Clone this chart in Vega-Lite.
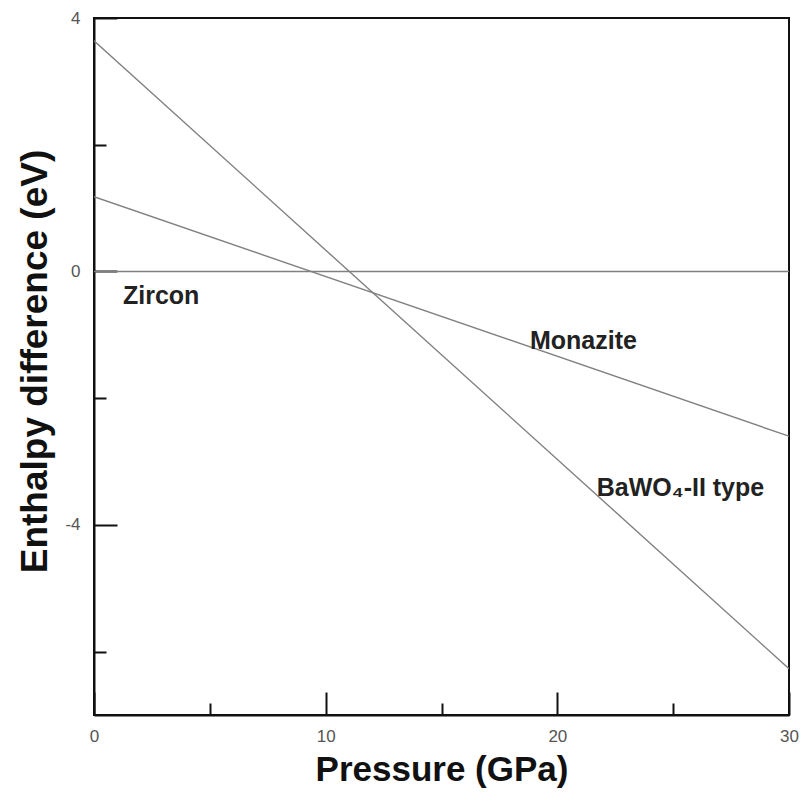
{
  "$schema": "https://vega.github.io/schema/vega-lite/v6.json",
  "autosize": "none",
  "width": 695,
  "height": 697,
  "padding": {"left": 94, "top": 18, "right": 15, "bottom": 86},
  "background": "white",
  "config": {
    "view": {"stroke": "#111", "strokeWidth": 2},
    "font": "Liberation Sans"
  },
  "datasets": {
    "lines": [
      {"series": "Zircon", "p": 0, "h": 0},
      {"series": "Zircon", "p": 30, "h": 0},
      {"series": "Monazite", "p": 0, "h": 1.18},
      {"series": "Monazite", "p": 30, "h": -2.6},
      {"series": "BaWO4-II", "p": 0, "h": 3.64},
      {"series": "BaWO4-II", "p": 30, "h": -6.27}
    ],
    "labels": [
      {"text": "Zircon", "p": 1.25, "h": -0.38},
      {"text": "Monazite", "p": 18.82, "h": -1.09},
      {"text": "BaWO₄-II type", "p": 21.7, "h": -3.42}
    ]
  },
  "layer": [
    {
      "data": {"name": "lines"},
      "mark": {"type": "line", "color": "#808080", "strokeWidth": 1.4, "clip": true},
      "encoding": {
        "x": {
          "field": "p", "type": "quantitative",
          "scale": {"domain": [0, 30], "nice": false},
          "axis": {
            "title": "Pressure (GPa)",
            "titleFontSize": 35, "titleFontWeight": "bold", "titleColor": "#111", "titlePadding": 8,
            "values": [0, 5, 10, 15, 20, 25, 30],
            "labelExpr": "datum.value % 10 === 0 ? '' + datum.value : ''",
            "labelFontSize": 17, "labelColor": "#555", "labelPadding": 36,
            "tickSize": {"condition": {"test": "datum.value % 10 === 0", "value": -23}, "value": -12},
            "tickColor": "#111", "tickWidth": 2,
            "domainColor": "#111", "domainWidth": 2,
            "grid": false, "labelFlush": false
          }
        },
        "y": {
          "field": "h", "type": "quantitative",
          "scale": {"domain": [-7, 4], "nice": false},
          "axis": {
            "title": "Enthalpy difference (eV)",
            "titleFontSize": 37, "titleFontWeight": "bold", "titleColor": "#111", "titlePadding": 10,
            "titleY": 343,
            "values": [-6, -4, -2, 0, 2, 4],
            "labelExpr": "datum.value % 4 === 0 ? '' + datum.value : ''",
            "labelFontSize": 17, "labelColor": "#555", "labelPadding": 37,
            "tickSize": {"condition": {"test": "datum.value % 4 === 0", "value": -23}, "value": -12},
            "tickColor": "#111", "tickWidth": 2,
            "domainColor": "#111", "domainWidth": 2,
            "grid": false, "labelFlush": false
          }
        },
        "detail": {"field": "series"}
      }
    },
    {
      "data": {"name": "labels"},
      "mark": {"type": "text", "align": "left", "baseline": "middle", "fontSize": 25, "fontWeight": "bold", "color": "#222"},
      "encoding": {
        "x": {"field": "p", "type": "quantitative"},
        "y": {"field": "h", "type": "quantitative"},
        "text": {"field": "text"}
      }
    }
  ]
}
